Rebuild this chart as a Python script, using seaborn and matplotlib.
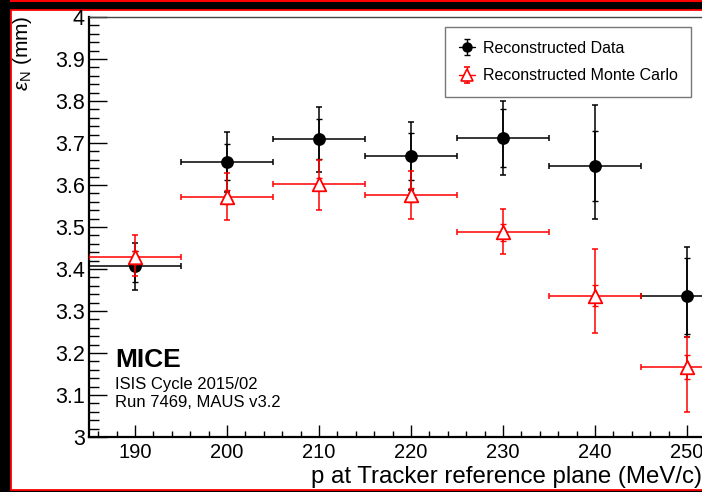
import numpy as np
import pandas as pd
import matplotlib
matplotlib.use("Agg")
import matplotlib.pyplot as plt
from matplotlib.patches import Rectangle
from matplotlib.ticker import MultipleLocator, FuncFormatter
import seaborn as sns

# ---------------- data ----------------
p_mev = [190, 200, 210, 220, 230, 240, 250]
p_half_width = [5, 5, 5, 5, 5, 5, 5]

data_eps = [3.407, 3.655, 3.710, 3.669, 3.711, 3.645, 3.336]
data_stat = [0.037, 0.042, 0.048, 0.056, 0.069, 0.083, 0.090]
data_tot_up = [0.056, 0.071, 0.075, 0.080, 0.089, 0.145, 0.116]
data_tot_dn = [0.056, 0.071, 0.079, 0.080, 0.088, 0.125, 0.097]

mc_eps = [3.428, 3.571, 3.602, 3.577, 3.487, 3.336, 3.167]
mc_stat = [0.015, 0.016, 0.015, 0.017, 0.020, 0.025, 0.028]
mc_tot_up = [0.053, 0.057, 0.058, 0.057, 0.056, 0.111, 0.072]
mc_tot_dn = [0.045, 0.054, 0.062, 0.059, 0.052, 0.089, 0.108]

series_labels = ["Reconstructed Data", "Reconstructed Monte Carlo"]
x_label = "p at Tracker reference plane (MeV/c)"
y_label = r"$\varepsilon_{\mathrm{N}}$ (mm)"
info_title = "MICE"
info_lines = ["ISIS Cycle 2015/02", "Run 7469, MAUS v3.2"]

# ---------------- style ----------------
sns.set_theme(style="white")
plt.rcParams["font.family"] = ["Liberation Sans", "DejaVu Sans"]
plt.rcParams["mathtext.fontset"] = "custom"
plt.rcParams["mathtext.rm"] = "Liberation Sans"
plt.rcParams["mathtext.it"] = "Liberation Sans:italic"
plt.rcParams["text.color"] = "black"
plt.rcParams["xtick.color"] = "black"
plt.rcParams["ytick.color"] = "black"
plt.rcParams["xtick.labelcolor"] = "black"
plt.rcParams["ytick.labelcolor"] = "black"

W, H = 702, 492
fig = plt.figure(figsize=(W / 100, H / 100), dpi=100)
fig.patch.set_facecolor("black")

# white canvas with red border (screenshot frame)
fig.patches.append(Rectangle((11 / W, 2 / H), 760 / W, 480 / H, transform=fig.transFigure,
                             facecolor="white", edgecolor="#ff0000", linewidth=1.3, zorder=-10))
fig.patches.append(Rectangle((10 / W, 490 / H), 760 / W, 2 / H, transform=fig.transFigure,
                             facecolor="#ff0000", edgecolor="none", zorder=-10))

ax = fig.add_axes([89 / W, 55 / H, 644 / W, 420 / H])
ax.set_facecolor("white")
ax.set_zorder(1)

df_data = pd.DataFrame({"p": p_mev, "eps": data_eps})
df_mc = pd.DataFrame({"p": p_mev, "eps": mc_eps})

black = "black"
red = "#ff0000"

# Data error bars (total + stat)
ax.errorbar(p_mev, data_eps, xerr=p_half_width, yerr=[data_tot_dn, data_tot_up], fmt="none",
            ecolor=black, elinewidth=1.1, capsize=2.5, capthick=1.1, zorder=2)
ax.errorbar(p_mev, data_eps, yerr=data_stat, fmt="none",
            ecolor=black, elinewidth=1.1, capsize=2.0, capthick=1.0, zorder=2)
sns.scatterplot(data=df_data, x="p", y="eps", ax=ax, marker="o", s=85, color=black,
                edgecolor=black, linewidth=0, zorder=3, legend=False)

# MC error bars (drawn on top)
ax.errorbar(p_mev, mc_eps, xerr=p_half_width, yerr=[mc_tot_dn, mc_tot_up], fmt="none",
            ecolor=red, elinewidth=1.1, capsize=2.5, capthick=1.1, zorder=4)
ax.errorbar(p_mev, mc_eps, yerr=mc_stat, fmt="none",
            ecolor=red, elinewidth=1.1, capsize=2.0, capthick=1.0, zorder=4)
sns.scatterplot(data=df_mc, x="p", y="eps", ax=ax, marker="^", s=95, facecolor="white",
                edgecolor=red, linewidth=1.3, zorder=5, legend=False)

ax.set_xlim(185, 255)
ax.set_ylim(3.0, 4.0)
ax.set_xlabel("")
ax.set_ylabel("")

ax.xaxis.set_major_locator(MultipleLocator(10))
ax.xaxis.set_minor_locator(MultipleLocator(2))
ax.yaxis.set_major_locator(MultipleLocator(0.1))
ax.yaxis.set_minor_locator(MultipleLocator(0.02))
ax.yaxis.set_major_formatter(FuncFormatter(lambda v, _: "%g" % round(v, 2)))
ax.xaxis.set_major_formatter(FuncFormatter(lambda v, _: "%g" % v))

ax.tick_params(axis="x", which="major", direction="in", length=9, width=1.0, labelsize=14.5, pad=4,
               bottom=True, top=False, colors="black")
ax.tick_params(axis="x", which="minor", direction="in", length=4.5, width=1.0, bottom=True, top=False)
ax.tick_params(axis="y", which="major", direction="in", length=13, width=1.0, labelsize=15.5, pad=3,
               left=True, right=False, colors="black")
ax.tick_params(axis="y", which="minor", direction="in", length=7, width=1.0, left=True, right=False)
for s in ["left", "bottom"]:
    ax.spines[s].set_color("black")
    ax.spines[s].set_linewidth(1.6)
for s in ["top", "right"]:
    ax.spines[s].set_color("#444444")
    ax.spines[s].set_linewidth(1.0)

# axis titles
fig.text(702 / W, 9 / H, x_label, ha="right", va="baseline", fontsize=17.3, color="black")
fig.text(22 / W, (H - 16) / H, y_label, rotation=90, ha="center", va="top", fontsize=15, color="black")

# legend with error-bar glyphs
h_data = ax.errorbar([np.nan], [np.nan], yerr=[0.1], fmt="o-", color=black, ms=6.5,
                     elinewidth=1.0, capsize=2.5, lw=1.0)
h_mc = ax.errorbar([np.nan], [np.nan], yerr=[0.1], fmt="^-", color=red, mfc="white", mec=red,
                   ms=8, mew=1.2, elinewidth=1.0, capsize=2.5, lw=1.0)
leg = ax.legend([h_data, h_mc], series_labels, loc="upper left",
                bbox_to_anchor=((445 - 89) / 644, 1 - 10 / 420), borderaxespad=0,
                fontsize=11.5, frameon=True, fancybox=False, edgecolor="#555555",
                handlelength=1.0, handletextpad=0.5, borderpad=0.85, labelspacing=0.8)
leg.get_frame().set_linewidth(1.0)

# info text
ax.text((115 - 89) / 644, (437 - 367) / 420, info_title, transform=ax.transAxes,
        fontsize=19, fontweight="bold", ha="left", va="baseline")
ax.text((115 - 89) / 644, (437 - 389) / 420, info_lines[0], transform=ax.transAxes,
        fontsize=12, ha="left", va="baseline")
ax.text((115 - 89) / 644, (437 - 407) / 420, info_lines[1], transform=ax.transAxes,
        fontsize=12, ha="left", va="baseline")

fig.savefig("out.png", dpi=100, facecolor=fig.get_facecolor())
